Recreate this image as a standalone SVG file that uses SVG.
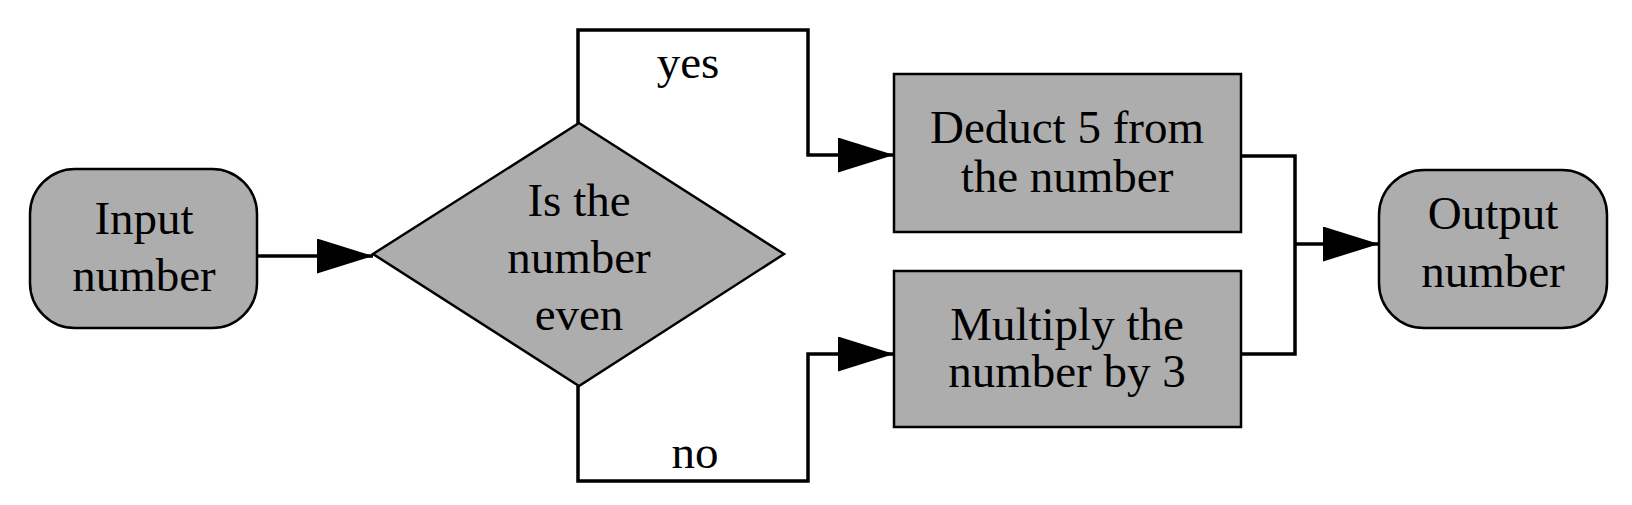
<svg xmlns="http://www.w3.org/2000/svg" width="1632" height="505" viewBox="0 0 1632 505">
<style>
.node{fill:#aeadae;stroke:#000;stroke-width:2.5}
.edge{fill:none;stroke:#000;stroke-width:3.5}
text{font-family:"Liberation Serif","Times New Roman",serif;font-size:47px;fill:#000;text-anchor:middle}
</style>
<defs>
<marker id="arr" markerUnits="userSpaceOnUse" markerWidth="58" markerHeight="36" refX="56" refY="17.5" orient="auto">
<path d="M0,0 L56,17.5 L0,35 Z" fill="#000"/>
</marker>
</defs>
<rect width="1632" height="505" fill="#fff"/>
<g id="connectors">
<path class="edge" d="M257,256 L373,256" marker-end="url(#arr)"/>
<path class="edge" d="M578,123 L578,30 L808,30 L808,155 L894,155" marker-end="url(#arr)"/>
<path class="edge" d="M578,386 L578,481 L808,481 L808,354 L894,354" marker-end="url(#arr)"/>
<path class="edge" d="M1241,156 L1295,156 L1295,354 L1241,354"/>
<path class="edge" d="M1295,244 L1379,244" marker-end="url(#arr)"/>
<text x="688" y="78">yes</text>
<text x="695" y="468">no</text>
</g>
<g id="input">
<rect class="node" x="30" y="169" width="227" height="159" rx="45" ry="45"/>
<text x="144" y="234">Input</text>
<text x="144" y="291">number</text>
</g>
<g id="decision">
<polygon class="node" points="579,123 784,254 579,386 373,254"/>
<text x="579" y="216">Is the</text>
<text x="579" y="273">number</text>
<text x="579" y="330">even</text>
</g>
<g id="deduct">
<rect class="node" x="894" y="74" width="347" height="158"/>
<text x="1067" y="143">Deduct 5 from</text>
<text x="1067" y="192">the number</text>
</g>
<g id="multiply">
<rect class="node" x="894" y="271" width="347" height="156"/>
<text x="1067" y="340">Multiply the</text>
<text x="1067" y="387">number by 3</text>
</g>
<g id="output">
<rect class="node" x="1379" y="170" width="228" height="158" rx="45" ry="45"/>
<text x="1493" y="229">Output</text>
<text x="1493" y="287">number</text>
</g>
</svg>
